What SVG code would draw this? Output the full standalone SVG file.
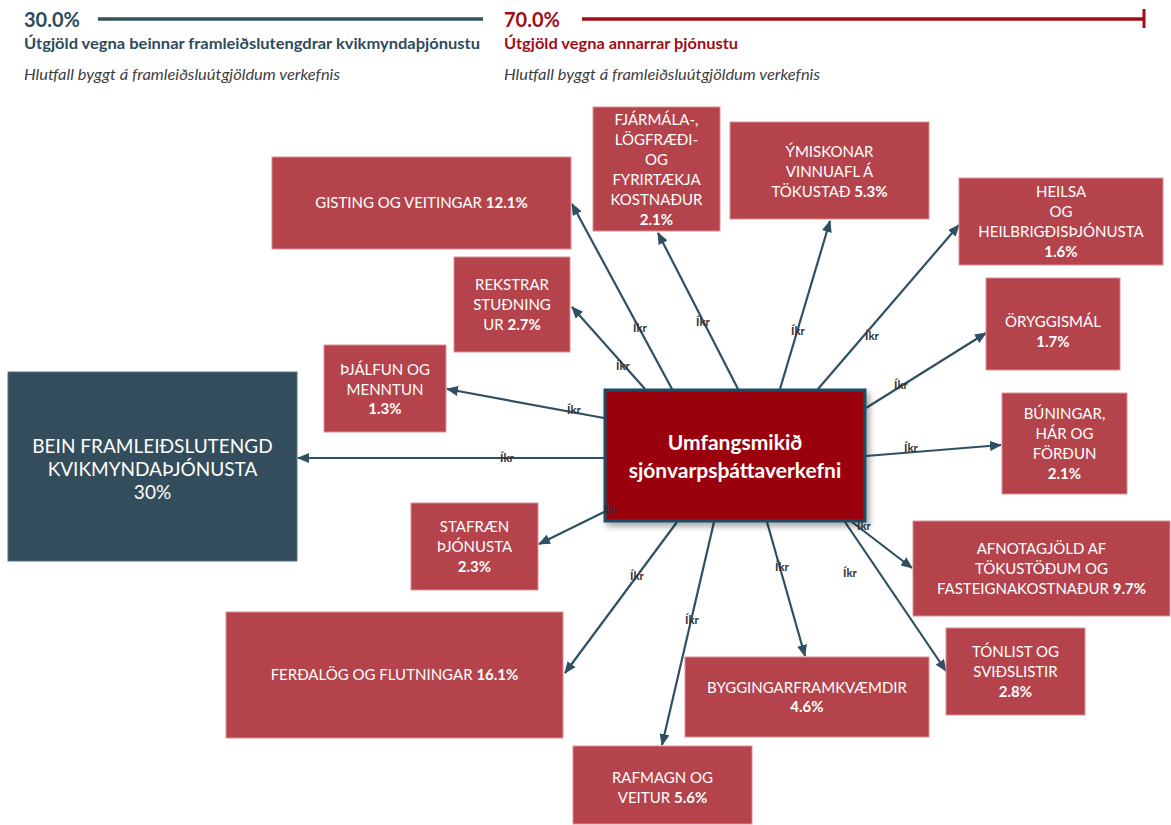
<svg xmlns="http://www.w3.org/2000/svg" width="1171" height="825" viewBox="0 0 1171 825">
<style>
  .bx{fill:#b5434b;stroke:#dc8f94;stroke-width:1}
  .t{font-family:Lato,"Open Sans","Liberation Sans",sans-serif;font-size:15px;fill:#ffffff;text-anchor:middle}
  .b{font-weight:bold}
  .big{font-size:19px;font-weight:normal}
  .ctr{font-size:21px;font-weight:bold}
  .c{stroke:#2e5062;stroke-width:2.2;fill:none;marker-end:url(#ah)}
  .lb{font-family:Lato,"Liberation Sans",sans-serif;font-size:11.5px;font-weight:bold;fill:#333333;text-anchor:middle}
  .hd{font-family:Lato,"Open Sans","Liberation Sans",sans-serif}
</style>
<defs>
  <marker id="ah" markerUnits="userSpaceOnUse" markerWidth="12" markerHeight="10" refX="11" refY="5" orient="auto">
    <path d="M0,0 L12,5 L0,10 z" fill="#2e5062"/>
  </marker>
  <filter id="sh" x="-10%" y="-10%" width="130%" height="140%">
    <feDropShadow dx="3" dy="4" stdDeviation="3" flood-color="#000" flood-opacity="0.35"/>
  </filter>
</defs>
<rect width="1171" height="825" fill="#ffffff"/>

<g id="header">
  <text class="hd" x="24" y="27" font-size="20" font-weight="bold" fill="#2d4b5c">30.0%</text>
  <line x1="98" y1="19" x2="483" y2="19" stroke="#34505f" stroke-width="3.5"/>
  <text class="hd" x="24" y="49" font-size="15" font-weight="bold" fill="#2d4b5c" textLength="456" lengthAdjust="spacingAndGlyphs">Útgjöld vegna beinnar framleiðslutengdrar kvikmyndaþjónustu</text>
  <text class="hd" x="24" y="80" font-size="14.5" font-style="italic" fill="#404040" textLength="316" lengthAdjust="spacingAndGlyphs">Hlutfall byggt á framleiðsluútgjöldum verkefnis</text>
  <text class="hd" x="504" y="27" font-size="20" font-weight="bold" fill="#a00d15">70.0%</text>
  <line x1="582" y1="19" x2="1144" y2="19" stroke="#a00d15" stroke-width="3.5"/>
  <line x1="1144" y1="9" x2="1144" y2="28" stroke="#a00d15" stroke-width="3"/>
  <text class="hd" x="504" y="49" font-size="15" font-weight="bold" fill="#a00d15" textLength="234" lengthAdjust="spacingAndGlyphs">Útgjöld vegna annarrar þjónustu</text>
  <text class="hd" x="504" y="80" font-size="14.5" font-style="italic" fill="#404040" textLength="316" lengthAdjust="spacingAndGlyphs">Hlutfall byggt á framleiðsluútgjöldum verkefnis</text>
</g>

<g id="connectors">
  <line class="c" x1="672" y1="389" x2="572" y2="204"/>
  <line class="c" x1="738" y1="389" x2="658" y2="233"/>
  <line class="c" x1="645" y1="389" x2="572" y2="307"/>
  <line class="c" x1="780" y1="389" x2="830" y2="221"/>
  <line class="c" x1="818" y1="389" x2="959" y2="225"/>
  <line class="c" x1="866" y1="408" x2="986" y2="333"/>
  <line class="c" x1="604" y1="418" x2="447" y2="389"/>
  <line class="c" x1="604" y1="458" x2="298" y2="458"/>
  <line class="c" x1="866" y1="456" x2="1001" y2="445"/>
  <line class="c" x1="604" y1="512" x2="539" y2="544"/>
  <line class="c" x1="677" y1="522" x2="565" y2="673"/>
  <line class="c" x1="714" y1="522" x2="662" y2="745"/>
  <line class="c" x1="767" y1="522" x2="805" y2="656"/>
  <line class="c" x1="845" y1="522" x2="946" y2="671"/>
  <line class="c" x1="852" y1="522" x2="912" y2="568"/>
</g>

<g id="node-gisting">
  <rect class="bx" x="272" y="157" width="299" height="92"/>
  <text class="t" x="421.5" y="208">GISTING OG VEITINGAR <tspan class="b">12.1%</tspan></text>
</g>
<g id="node-fjarmala">
  <rect class="bx" x="593" y="107" width="127" height="124"/>
  <text class="t" x="656.5" y="125">FJÁRMÁLA-,</text>
  <text class="t" x="656.5" y="145">LÖGFRÆÐI-</text>
  <text class="t" x="656.5" y="165">OG</text>
  <text class="t" x="656.5" y="185">FYRIRTÆKJA</text>
  <text class="t" x="656.5" y="205">KOSTNAÐUR</text>
  <text class="t b" x="656.5" y="225">2.1%</text>
</g>
<g id="node-ymiskonar">
  <rect class="bx" x="730" y="122" width="199" height="97"/>
  <text class="t" x="829.5" y="157">ÝMISKONAR</text>
  <text class="t" x="829.5" y="177">VINNUAFL Á</text>
  <text class="t" x="829.5" y="197">TÖKUSTAÐ <tspan class="b">5.3%</tspan></text>
</g>
<g id="node-heilsa">
  <rect class="bx" x="959" y="178" width="204" height="87"/>
  <text class="t" x="1061" y="197">HEILSA</text>
  <text class="t" x="1061" y="217">OG</text>
  <text class="t" x="1061" y="237">HEILBRIGÐISÞJÓNUSTA</text>
  <text class="t b" x="1061" y="257">1.6%</text>
</g>
<g id="node-rekstrar">
  <rect class="bx" x="454" y="257" width="116" height="95"/>
  <text class="t" x="512" y="290">REKSTRAR</text>
  <text class="t" x="512" y="310">STUÐNING</text>
  <text class="t" x="512" y="330">UR <tspan class="b">2.7%</tspan></text>
</g>
<g id="node-oryggismal">
  <rect class="bx" x="986" y="278" width="134" height="92"/>
  <text class="t" x="1053" y="327">ÖRYGGISMÁL</text>
  <text class="t b" x="1053" y="347">1.7%</text>
</g>
<g id="node-thjalfun">
  <rect class="bx" x="324" y="345" width="122" height="87"/>
  <text class="t" x="385" y="375">ÞJÁLFUN OG</text>
  <text class="t" x="385" y="394.5">MENNTUN</text>
  <text class="t b" x="385" y="414">1.3%</text>
</g>
<g id="node-bein">
  <rect x="8" y="372" width="289" height="189" fill="#334d5c" stroke="#5b7383" stroke-width="1"/>
  <text class="t big" x="152.5" y="452.5">BEIN FRAMLEIÐSLUTENGD</text>
  <text class="t big" x="152.5" y="475.5">KVIKMYNDAÞJÓNUSTA</text>
  <text class="t big" x="152.5" y="498.5">30%</text>
</g>
<g id="node-center">
  <rect x="605" y="390" width="260" height="131" fill="#9b0610" stroke="#1f4d63" stroke-width="3" filter="url(#sh)"/>
  <text class="t ctr" x="735" y="450">Umfangsmikið</text>
  <text class="t ctr" x="735" y="478">sjónvarpsþáttaverkefni</text>
</g>
<g id="node-buningar">
  <rect class="bx" x="1002" y="393" width="125" height="101"/>
  <text class="t" x="1064.5" y="418.5">BÚNINGAR,</text>
  <text class="t" x="1064.5" y="438.5">HÁR OG</text>
  <text class="t" x="1064.5" y="458.5">FÖRÐUN</text>
  <text class="t b" x="1064.5" y="479">2.1%</text>
</g>
<g id="node-stafraen">
  <rect class="bx" x="411" y="503" width="127" height="87"/>
  <text class="t" x="474.5" y="532">STAFRÆN</text>
  <text class="t" x="474.5" y="552">ÞJÓNUSTA</text>
  <text class="t b" x="474.5" y="572">2.3%</text>
</g>
<g id="node-afnotagjold">
  <rect class="bx" x="913" y="521" width="257" height="95"/>
  <text class="t" x="1041.5" y="553.5">AFNOTAGJÖLD AF</text>
  <text class="t" x="1041.5" y="573.5">TÖKUSTÖÐUM OG</text>
  <text class="t" x="1041.5" y="594">FASTEIGNAKOSTNAÐUR <tspan class="b">9.7%</tspan></text>
</g>
<g id="node-ferdalog">
  <rect class="bx" x="226" y="612" width="337" height="126"/>
  <text class="t" x="394.5" y="680">FERÐALÖG OG FLUTNINGAR <tspan class="b">16.1%</tspan></text>
</g>
<g id="node-tonlist">
  <rect class="bx" x="946" y="628" width="139" height="87"/>
  <text class="t" x="1015.5" y="657">TÓNLIST OG</text>
  <text class="t" x="1015.5" y="677">SVIÐSLISTIR</text>
  <text class="t b" x="1015.5" y="697">2.8%</text>
</g>
<g id="node-byggingar">
  <rect class="bx" x="685" y="657" width="244" height="80"/>
  <text class="t" x="807" y="692.5">BYGGINGARFRAMKVÆMDIR</text>
  <text class="t b" x="807" y="712">4.6%</text>
</g>
<g id="node-rafmagn">
  <rect class="bx" x="573" y="746" width="179" height="78"/>
  <text class="t" x="662.5" y="782.5">RAFMAGN OG</text>
  <text class="t" x="662.5" y="803">VEITUR <tspan class="b">5.6%</tspan></text>
</g>

<g id="connector-labels">
  <text class="lb" x="640" y="332">Íkr</text>
  <text class="lb" x="703" y="326">Íkr</text>
  <text class="lb" x="623" y="370">Íkr</text>
  <text class="lb" x="798" y="335">Íkr</text>
  <text class="lb" x="872" y="340">Íkr</text>
  <text class="lb" x="901" y="389">Íkr</text>
  <text class="lb" x="574" y="414">Íkr</text>
  <text class="lb" x="507" y="462">Íkr</text>
  <text class="lb" x="911" y="452">Íkr</text>
  <text class="lb" x="611" y="513">Íkr</text>
  <text class="lb" x="864" y="530">Íkr</text>
  <text class="lb" x="637" y="580">Íkr</text>
  <text class="lb" x="692" y="624">Íkr</text>
  <text class="lb" x="782" y="571">Íkr</text>
  <text class="lb" x="850" y="577">Íkr</text>
</g>
</svg>
